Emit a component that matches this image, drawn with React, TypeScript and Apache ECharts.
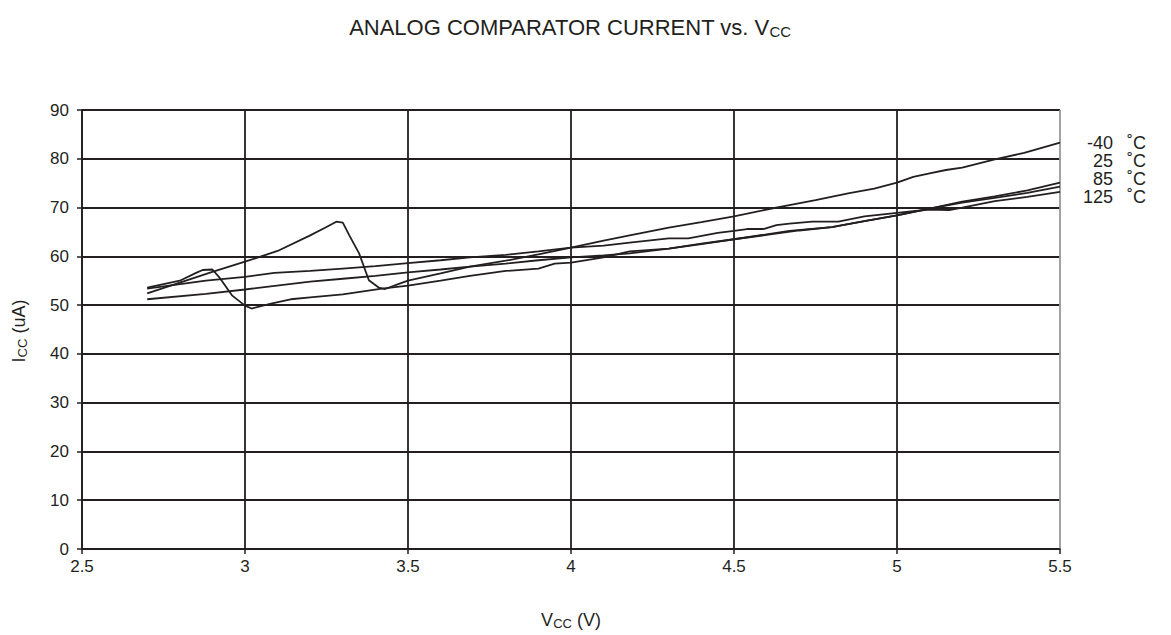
import React, { useEffect, useRef } from "react";
import * as echarts from "echarts";

// Vcc (V) / Icc (uA), one pair of arrays per temperature
const vccM40 = [2.7, 2.8, 2.9, 3.0, 3.1, 3.2, 3.25, 3.28, 3.3, 3.32, 3.35, 3.38, 3.41, 3.43, 3.47, 3.5, 3.6, 3.69, 3.8, 3.9, 4.0, 4.1, 4.18, 4.3, 4.4, 4.5, 4.6, 4.67, 4.75, 4.85, 4.93, 5.0, 5.05, 5.1, 5.15, 5.2, 5.3, 5.39, 5.5];
const iccM40 = [52.4, 54.6, 56.8, 58.9, 61.1, 64.3, 66.0, 67.1, 66.9, 64.3, 60.6, 55.1, 53.6, 53.3, 54.3, 55.0, 56.5, 57.9, 59.1, 60.4, 61.8, 63.2, 64.3, 65.9, 67.0, 68.2, 69.6, 70.5, 71.5, 72.9, 73.9, 75.1, 76.3, 77.0, 77.7, 78.2, 79.9, 81.2, 83.3];

const vcc25 = [2.7, 2.88, 3.0, 3.2, 3.3, 3.4, 3.5, 3.6, 3.69, 3.8, 3.9, 4.0, 4.1, 4.18, 4.3, 4.4, 4.5, 4.6, 4.7, 4.8, 4.9, 5.0, 5.1, 5.2, 5.3, 5.4, 5.5];
const icc25 = [51.2, 52.3, 53.2, 54.8, 55.4, 56.0, 56.7, 57.3, 57.9, 58.5, 59.2, 59.8, 60.2, 60.6, 61.6, 62.6, 63.5, 64.4, 65.3, 66.0, 67.2, 68.4, 69.8, 71.2, 72.3, 73.5, 75.1];

const vcc85 = [2.7, 2.8, 2.85, 2.87, 2.9, 2.92, 2.96, 3.0, 3.02, 3.08, 3.14, 3.2, 3.3, 3.42, 3.5, 3.6, 3.69, 3.8, 3.9, 3.95, 4.0, 4.1, 4.18, 4.3, 4.4, 4.5, 4.6, 4.67, 4.8, 4.9, 5.0, 5.1, 5.2, 5.3, 5.4, 5.5];
const icc85 = [53.6, 55.0, 56.6, 57.2, 57.3, 55.8, 52.0, 49.9, 49.3, 50.3, 51.2, 51.6, 52.2, 53.4, 54.0, 55.0, 56.0, 57.0, 57.5, 58.5, 58.7, 59.8, 61.0, 61.6, 62.5, 63.5, 64.5, 65.2, 66.0, 67.2, 68.4, 69.8, 71.0, 72.0, 73.0, 74.3];

const vcc125 = [2.7, 2.88, 3.0, 3.09, 3.2, 3.3, 3.4, 3.5, 3.6, 3.69, 3.8, 3.9, 4.0, 4.1, 4.18, 4.3, 4.36, 4.45, 4.5, 4.54, 4.59, 4.63, 4.67, 4.74, 4.82, 4.9, 5.0, 5.1, 5.16, 5.2, 5.3, 5.4, 5.5];
const icc125 = [53.4, 55.0, 55.8, 56.6, 57.0, 57.5, 58.0, 58.6, 59.2, 59.8, 60.3, 61.0, 61.8, 62.2, 62.8, 63.7, 63.7, 64.8, 65.2, 65.6, 65.6, 66.4, 66.7, 67.1, 67.1, 68.2, 68.9, 69.6, 69.5, 70.0, 71.3, 72.2, 73.2];

const tempLabels = ["-40", "25", "85", "125"];

const INK = "#231f20";
const FONT = "'Liberation Sans', Arial, Helvetica, sans-serif";

function pairs(xs: number[], ys: number[]) {
  return xs.map((x, i) => [x, ys[i]]);
}

export default function App() {
  const ref = useRef<HTMLDivElement>(null);

  useEffect(() => {
    if (!ref.current) return;
    const chart = echarts.init(ref.current, null, { renderer: "svg" });

    const seriesData = [
      pairs(vccM40, iccM40),
      pairs(vcc25, icc25),
      pairs(vcc85, icc85),
      pairs(vcc125, icc125),
    ];

    chart.setOption({
      animation: false,
      backgroundColor: "#ffffff",
      grid: { left: 82, right: 111, top: 110, bottom: 86, containLabel: false },
      xAxis: {
        type: "value",
        min: 2.5,
        max: 5.5,
        interval: 0.5,
        axisLine: { show: true, lineStyle: { color: INK, width: 1.5 } },
        axisTick: { show: true, length: 5, lineStyle: { color: INK, width: 1.5 } },
        axisLabel: { color: INK, fontSize: 17, fontFamily: FONT, margin: 9 },
        splitLine: {
          show: true,
          lineStyle: { color: [INK, INK, INK, INK, INK, INK, "#9a9a9a"], width: 1.8 },
        },
      },
      yAxis: {
        type: "value",
        min: 0,
        max: 90,
        interval: 10,
        axisLine: { show: true, lineStyle: { color: INK, width: 1.5 } },
        axisTick: { show: true, length: 5, lineStyle: { color: INK, width: 1.5 } },
        axisLabel: { color: INK, fontSize: 17, fontFamily: FONT, margin: 13 },
        splitLine: { show: true, lineStyle: { color: INK, width: 1.8 } },
      },
      series: seriesData.map((d, i) => ({
        name: tempLabels[i] + " °C",
        type: "line",
        data: d,
        showSymbol: false,
        symbol: "none",
        smooth: false,
        lineStyle: { color: INK, width: 1.8 },
        z: 3,
      })),
      graphic: [
        {
          type: "text",
          x: 570,
          y: 27,
          style: {
            text: "{a|ANALOG COMPARATOR CURRENT vs. V}{b|CC}",
            fill: INK,
            textAlign: "center",
            textVerticalAlign: "middle",
            rich: {
              a: { fontSize: 22, fontFamily: FONT, lineHeight: 24, fill: INK },
              b: { fontSize: 15, fontFamily: FONT, lineHeight: 15, verticalAlign: "bottom", fill: INK },
            },
          },
        },
        {
          type: "text",
          x: 571,
          y: 620,
          style: {
            text: "{a|V}{b|CC}{a| (V)}",
            fill: INK,
            textAlign: "center",
            textVerticalAlign: "middle",
            rich: {
              a: { fontSize: 18, fontFamily: FONT, lineHeight: 20, fill: INK },
              b: { fontSize: 13, fontFamily: FONT, lineHeight: 13, verticalAlign: "bottom", fill: INK },
            },
          },
        },
        {
          type: "text",
          x: 19,
          y: 331,
          rotation: Math.PI / 2,
          style: {
            text: "{a|I}{b|CC}{a| (uA)}",
            fill: INK,
            textAlign: "center",
            textVerticalAlign: "middle",
            rich: {
              a: { fontSize: 18, fontFamily: FONT, lineHeight: 20, fill: INK },
              b: { fontSize: 13, fontFamily: FONT, lineHeight: 13, verticalAlign: "bottom", fill: INK },
            },
          },
        },
        {
          type: "text",
          x: 1113,
          y: 170,
          style: {
            text: tempLabels.join("\n"),
            fill: INK,
            font: `18px ${FONT}`,
            lineHeight: 18,
            textAlign: "right",
            textVerticalAlign: "middle",
          },
        },
        {
          type: "text",
          x: 1127,
          y: 170,
          style: {
            text: tempLabels.map(() => "˚C").join("\n"),
            fill: INK,
            font: `18px ${FONT}`,
            lineHeight: 18,
            textAlign: "left",
            textVerticalAlign: "middle",
          },
        },
      ],
    });

    return () => chart.dispose();
  }, []);

  return (
    <div
      ref={ref}
      style={{ position: "fixed", left: 0, top: 0, width: 1171, height: 635, background: "#fff" }}
    />
  );
}
